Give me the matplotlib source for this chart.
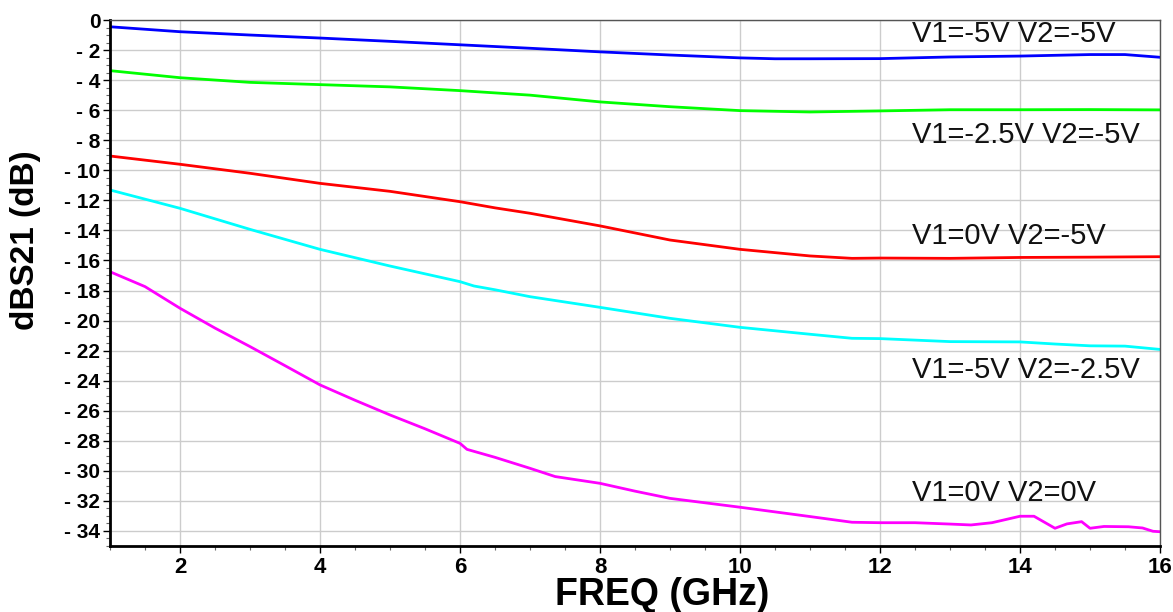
import matplotlib
matplotlib.use('Agg')
import matplotlib.pyplot as plt
from matplotlib.ticker import MultipleLocator, FuncFormatter

plt.rcParams['font.family'] = ['Liberation Sans', 'DejaVu Sans']

# frequency points (GHz), per curve
f_blue = [1, 2, 3, 4, 5, 6, 7, 8, 9, 10, 10.5, 11, 12, 13, 14, 15, 15.5, 16]
s_blue = [-0.45, -0.78, -1.0, -1.2, -1.42, -1.65, -1.88, -2.12, -2.33, -2.52, -2.58, -2.58,
          -2.57, -2.46, -2.4, -2.3, -2.3, -2.48]

f_green = [1, 2, 3, 4, 5, 6, 7, 8, 9, 10, 11, 12, 13, 14, 15, 16]
s_green = [-3.37, -3.84, -4.15, -4.3, -4.45, -4.7, -5.0, -5.45, -5.77, -6.03, -6.12, -6.05,
           -5.97, -5.97, -5.96, -5.98]

f_red = [1, 2, 3, 4, 5, 6, 6.5, 7, 8, 9, 10, 11, 11.6, 12, 13, 14, 15, 16]
s_red = [-9.05, -9.6, -10.2, -10.87, -11.4, -12.09, -12.5, -12.86, -13.7, -14.64, -15.26,
         -15.7, -15.86, -15.84, -15.86, -15.8, -15.78, -15.75]

f_cyan = [1, 2, 3, 4, 5, 6, 6.2, 6.5, 7, 8, 9, 10, 11, 11.6, 12, 13, 14, 14.5, 15, 15.5, 16]
s_cyan = [-11.31, -12.53, -13.93, -15.26, -16.37, -17.41, -17.7, -17.95, -18.41, -19.12,
          -19.85, -20.45, -20.91, -21.18, -21.2, -21.4, -21.42, -21.56, -21.68, -21.7, -21.92]

f_mag = [1, 1.5, 2, 2.5, 3, 3.5, 4, 4.5, 5, 5.5, 6, 6.1, 6.5, 7, 7.36, 8, 8.5, 9, 10, 11,
         11.6, 12, 12.5, 13, 13.3, 13.6, 14, 14.2, 14.5, 14.67, 14.88, 15.0, 15.2, 15.55,
         15.75, 15.9, 16]
s_mag = [-16.75, -17.74, -19.18, -20.5, -21.73, -23.0, -24.28, -25.3, -26.28, -27.2,
         -28.17, -28.57, -29.1, -29.83, -30.38, -30.83, -31.35, -31.83, -32.42, -33.04,
         -33.42, -33.45, -33.45, -33.54, -33.6, -33.45, -33.02, -33.02, -33.82, -33.53,
         -33.38, -33.82, -33.7, -33.72, -33.8, -34.02, -34.05]

labels = ['V1=-5V V2=-5V', 'V1=-2.5V V2=-5V', 'V1=0V V2=-5V', 'V1=-5V V2=-2.5V', 'V1=0V V2=0V']
label_x = [12.45, 12.45, 12.45, 12.45, 12.45]
label_y = [-0.95, -7.62, -14.34, -23.3, -31.5]

fig = plt.figure(figsize=(11.73, 6.12), dpi=100)
ax = fig.add_axes([110 / 1173, 1 - 546 / 612, 1050 / 1173, 526 / 612])

ax.plot(f_blue, s_blue, color='#0000ff', lw=2)
ax.plot(f_green, s_green, color='#00ff00', lw=2)
ax.plot(f_red, s_red, color='#ff0000', lw=2)
ax.plot(f_cyan, s_cyan, color='#00ffff', lw=2)
ax.plot(f_mag, s_mag, color='#ff00ff', lw=2)

for txt, x, y in zip(labels, label_x, label_y):
    ax.text(x, y, txt, fontsize=21, ha='left', va='center', color='#111111')

ax.set_xlim(1, 16)
ax.set_ylim(-35, 0)
ax.xaxis.set_major_locator(MultipleLocator(2))
ax.xaxis.set_minor_locator(MultipleLocator(0.5))
ax.yaxis.set_major_locator(MultipleLocator(2))
ax.yaxis.set_minor_locator(MultipleLocator(0.5))
ax.yaxis.set_major_formatter(FuncFormatter(lambda v, p: '0' if v == 0 else '- %d' % abs(v)))
ax.grid(True, which='major', color='#cccccc', lw=1)

ax.tick_params(axis='x', which='major', labelsize=16, length=5, width=1, pad=3)
ax.tick_params(axis='y', which='major', labelsize=15, length=5, width=1, pad=2)
ax.tick_params(which='minor', length=3, width=0.8, color='#666666')
for lab in ax.get_xticklabels() + ax.get_yticklabels():
    lab.set_fontweight('bold')

for side in ['left', 'bottom']:
    ax.spines[side].set_linewidth(2)
    ax.spines[side].set_color('black')
for side in ['top', 'right']:
    ax.spines[side].set_linewidth(1)
    ax.spines[side].set_color('#555555')

ax.set_xlabel('FREQ (GHz)', fontsize=27, fontweight='bold', va='center')
ax.xaxis.set_label_coords(0.526, -0.093)
ax.set_ylabel('dBS21 (dB)', fontsize=24, fontweight='bold', va='center')
ax.yaxis.set_label_coords(-0.08, 0.582)

fig.savefig('out.png', dpi=100)
